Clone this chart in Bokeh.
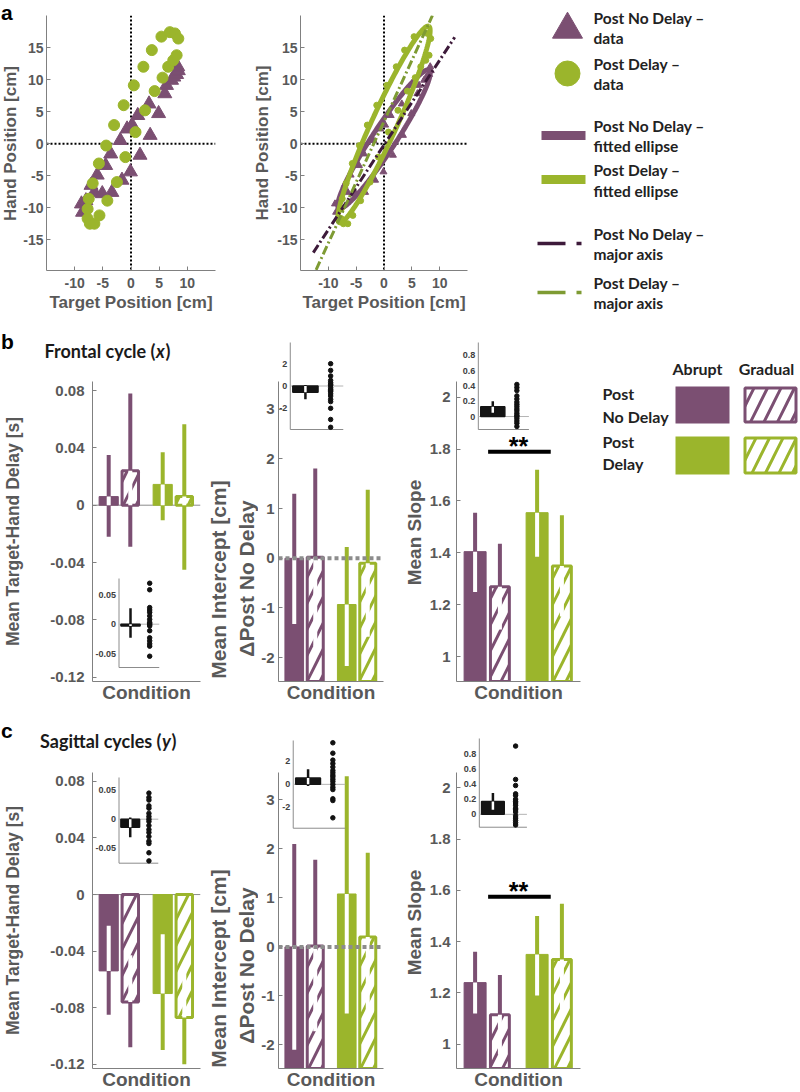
import math
import numpy as np
from bokeh.plotting import figure
from bokeh.layouts import row, column
from bokeh.models import Range1d, FixedTicker, Span, Spacer
from bokeh.core.properties import value
from bokeh.embed import file_html
from bokeh.resources import INLINE

# ===================== DATA =====================
# Panel a - example participant: hand position vs target position [cm]
nodelay_target = [-8.8, -8.6, -8.0, -7.1, -6.5, -6.0, -5.1, -4.5, -3.6, -3.4, -1.9, -1.6, -0.7, -0.1,
                  0.2, 1.2, 1.6, 3.2, 3.4, 4.9, 6.0, 6.3, 7.2, 7.6, 8.1, 8.4, 8.3]
nodelay_hand = [-9.4, -10.7, -8.9, -6.5, -7.6, -4.9, -7.8, -3.4, -1.6, -7.6, 0.5, -5.7, 2.3, -4.4,
                2.9, 4.4, -1.8, 6.2, 1.3, 4.7, 7.8, 9.1, 9.9, 10.4, 10.8, 11.4, 12.0]
delay_target = [5.4, 6.9, 7.8, 8.4, 3.7, 2.2, 0.5, -1.3, -3.0, -4.4, -5.7, -6.8, -7.5, -7.7,
                -7.7, -7.3, -6.5, -5.6, -4.2, -2.5, -1.0, 0.8, 2.5, 4.2, 5.6, 6.6, 7.5, 8.1]
delay_hand = [16.7, 17.4, 17.2, 16.4, 14.6, 12.0, 9.1, 6.0, 2.9, -0.3, -3.1, -6.2, -8.6, -10.2,
              -11.7, -12.5, -12.5, -11.2, -8.9, -6.0, -2.1, 1.8, 5.2, 8.2, 10.3, 12.0, 13.0, 13.8]
# fitted ellipses: centre x, centre y, semi-major, semi-minor, slope of major axis
ellipse_nodelay = [0.0, 0.7, 13.5, 2.0, 1.32]
ellipse_delay = [0.0, 3.0, 17.3, 2.2, 1.90]
# major axes (end points)
major_nodelay_target = [-12.7, 12.7]
major_nodelay_hand = [-17.0, 16.6]
major_delay_target = [-12.2, 8.7]
major_delay_hand = [-19.7, 20.0]
a_xticks = [-10, -5, 0, 5, 10]
a_yticks = [-15, -10, -5, 0, 5, 10, 15]

# Panels b, c - order: Post No Delay Abrupt, Post No Delay Gradual, Post Delay Abrupt, Post Delay Gradual
conditions = ["Post No Delay - Abrupt", "Post No Delay - Gradual", "Post Delay - Abrupt", "Post Delay - Gradual"]

b_delay_mean = [0.006, 0.024, 0.0145, 0.006]
b_delay_low = [-0.022, -0.029, -0.0105, -0.045]
b_delay_high = [0.035, 0.078, 0.037, 0.0565]
b_icpt_mean = [0.0, 0.02, -0.93, -0.10]
b_icpt_low = [-1.32, -1.77, -2.17, -1.58]
b_icpt_high = [1.30, 1.81, 0.23, 1.38]
b_slope_mean = [1.405, 1.27, 1.555, 1.35]
b_slope_low = [1.25, 1.105, 1.385, 1.155]
b_slope_high = [1.555, 1.435, 1.72, 1.545]

c_delay_mean = [-0.054, -0.076, -0.070, -0.087]
c_delay_low = [-0.085, -0.108, -0.110, -0.120]
c_delay_high = [-0.022, -0.043, -0.028, -0.052]
c_icpt_mean = [0.0, 0.02, 1.08, 0.20]
c_icpt_low = [-2.10, -1.72, -1.36, -1.52]
c_icpt_high = [2.10, 1.78, 3.48, 1.92]
c_slope_mean = [1.24, 1.115, 1.35, 1.33]
c_slope_low = [1.12, 0.96, 1.19, 1.11]
c_slope_high = [1.36, 1.27, 1.50, 1.548]

# insets: [mean, low, high] and individual participants
b_delay_inset = [-0.003, -0.023, 0.027]
b_delay_dots = [0.069, 0.058, 0.028, 0.024, 0.020, 0.014, 0.008, 0.003, 0.001, -0.001, -0.003,
                -0.011, -0.023, -0.028, -0.033, -0.037, -0.054]
b_icpt_inset = [-0.55, -1.18, 0.08]
b_icpt_dots = [2.0, 1.4, 0.9, 0.5, 0.3, 0.15, 0.06, -0.15, -0.3, -0.4, -0.5, -0.7, -0.9, -1.2,
               -1.4, -2.0, -3.0, -3.7]
b_slope_inset = [0.127, 0.05, 0.20]
b_slope_dots = [0.42, 0.38, 0.34, 0.27, 0.23, 0.19, 0.16, 0.13, 0.10, 0.075, 0.044, 0.017, 0.0,
                -0.026, -0.057, -0.087, -0.13]
c_delay_inset = [-0.014, -0.031, 0.003]
c_delay_dots = [0.045, 0.0375, 0.033, 0.023, 0.019, 0.010, 0.0045, 0.0, -0.004, -0.011, -0.018,
                -0.023, -0.030, -0.038, -0.042, -0.058, -0.072]
c_icpt_inset = [0.55, -0.15, 1.30]
c_icpt_dots = [3.6, 2.7, 2.1, 1.8, 1.5, 1.2, 1.0, 0.8, 0.65, 0.45, 0.25, 0.0, -0.25, -0.45,
               -1.25, -1.4, -2.9]
c_slope_inset = [0.17, 0.06, 0.28]
c_slope_dots = [0.90, 0.46, 0.38, 0.27, 0.25, 0.20, 0.17, 0.15, 0.12, 0.08, 0.06, 0.03, -0.02,
                -0.05, -0.08, -0.11, -0.14]

delay_ticks = [-0.12, -0.08, -0.04, 0, 0.04, 0.08]
delay_labels = ["-0.12", "-0.08", "-0.04", "0", "0.04", "0.08"]
icpt_ticks = [-2, -1, 0, 1, 2, 3]
icpt_labels = ["-2", "-1", "0", "1", "2", "3"]
slope_ticks = [1, 1.2, 1.4, 1.6, 1.8, 2]
slope_labels = ["1", "1.2", "1.4", "1.6", "1.8", "2"]
in_delay_ticks = [-0.05, 0, 0.05]
in_delay_labels = ["-0.05", "0", "0.05"]
in_icpt_ticks = [-2, 0, 2]
in_icpt_labels = ["-2", "0", "2"]
in_slope_ticks = [0, 0.2, 0.4, 0.6, 0.8]
in_slope_labels = ["0", "0.2", "0.4", "0.6", "0.8"]
b_sig_level = 1.79
c_sig_level = 1.575

# ===================== STYLE =====================
PURPLE = "#7B4F72"
GREEN = "#9BB52C"
PURPLE_DARK = "#3D1A3A"
GREEN_DARK = "#7E9B33"
AXIS_COL = "#808080"
TICK_TXT = "#595959"
DARK_TXT = "#222222"
AX_FONT = "Liberation Sans"
LEG_FONT = "Lato"

BAR_X = [0.8, 1.2, 1.8, 2.2]
BAR_COL = [PURPLE, PURPLE, GREEN, GREEN]
HATCHED = [False, True, False, True]
INSET_XR = (0.4, 2.5)


def base_fig(width, height, xr, yr, left=0, right=0, top=0, bottom=0, axes=True):
    kw = dict(width=width, height=height, x_range=xr, y_range=yr, output_backend="svg",
              toolbar_location=None, title=None, min_border_left=left, min_border_right=right,
              min_border_top=top, min_border_bottom=bottom)
    if not axes:
        kw["x_axis_type"] = None
        kw["y_axis_type"] = None
    p = figure(**kw)
    p.frame_align = False
    p.outline_line_color = None
    p.grid.visible = False
    p.background_fill_color = "white"
    p.border_fill_color = "white"
    return p


def style_axis(ax, tick_size, label_size, label_standoff, tick_standoff):
    ax.axis_line_color = AXIS_COL
    ax.axis_line_width = 1
    ax.major_tick_line_color = AXIS_COL
    ax.major_tick_in = 4
    ax.major_tick_out = 0
    ax.minor_tick_line_color = None
    ax.major_label_text_font = AX_FONT
    ax.major_label_text_font_style = "bold"
    ax.major_label_text_font_size = tick_size
    ax.major_label_text_color = TICK_TXT
    ax.major_label_standoff = tick_standoff
    ax.axis_label_text_font = AX_FONT
    ax.axis_label_text_font_style = "bold"
    ax.axis_label_text_font_size = label_size
    ax.axis_label_text_color = TICK_TXT
    ax.axis_label_standoff = label_standoff


def txt(p, x, y, t, size, color=DARK_TXT, font=LEG_FONT, style="bold", align="left",
        baseline="middle", angle=0.0):
    p.text(x=[x], y=[y], text=[t], text_font=value(font), text_font_size=size,
           text_font_style=style, text_color=color, text_align=align,
           text_baseline=baseline, angle=angle)


def err_segments(xs, bases, means, lows, highs, colors):
    cx, c0, c1, cc, wx, w0, w1 = [], [], [], [], [], [], []
    for x, b, m, lo, hi, c in zip(xs, bases, means, lows, highs, colors):
        a_, b_ = min(b, m), max(b, m)
        if lo < a_:
            cx.append(x); c0.append(lo); c1.append(min(hi, a_)); cc.append(c)
        if hi > b_:
            cx.append(x); c0.append(max(lo, b_)); c1.append(hi); cc.append(c)
        il, ih = max(lo, a_), min(hi, b_)
        if ih > il:
            wx.append(x); w0.append(il); w1.append(ih)
    return (cx, c0, c1, cc), (wx, w0, w1)


def draw_err(p, xs, bases, means, lows, highs, colors, width, **kw):
    (cx, c0, c1, cc), (wx, w0, w1) = err_segments(xs, bases, means, lows, highs, colors)
    if cx:
        p.segment(x0=cx, y0=c0, x1=cx, y1=c1, line_color=cc, line_width=width, line_cap="butt", **kw)
    if wx:
        p.segment(x0=wx, y0=w0, x1=wx, y1=w1, line_color="white", line_width=width, line_cap="butt", **kw)


def ellipse_curve(params, n=240):
    cx, cy, a, b, slope = params
    th = math.atan(slope)
    t = np.linspace(0, 2 * np.pi, n)
    x = cx + a * np.cos(t) * math.cos(th) - b * np.sin(t) * math.sin(th)
    y = cy + a * np.cos(t) * math.sin(th) + b * np.sin(t) * math.cos(th)
    return x, y


# ===================== PANEL a =====================
def scatter_panel(width, left, right, ylabel):
    p = base_fig(width, 322, Range1d(-15, 15), Range1d(-19.8, 20), left, right, 15, 52)
    xa, ya = p.xaxis[0], p.yaxis[0]
    style_axis(xa, "14px", "17px", 2, 7)
    style_axis(ya, "14px", "17px", 2, 3)
    xa.ticker = FixedTicker(ticks=a_xticks)
    ya.ticker = FixedTicker(ticks=a_yticks)
    xa.major_label_overrides = {t: str(t) for t in a_xticks}
    ya.major_label_overrides = {t: str(t) for t in a_yticks}
    xa.axis_label = "Target Position [cm]"
    if ylabel:
        ya.axis_label = ylabel
    for dim in ("width", "height"):
        p.add_layout(Span(location=0, dimension=dim, line_color="black", line_width=2,
                          line_dash="2 2", level="underlay"))
    return p


stripA = base_fig(20, 322, Range1d(0, 20), Range1d(322, 0), axes=False)
txt(stripA, 0.5, 12, "a", "21px", color="black", font=AX_FONT)
txt(stripA, 10, 143, "Hand Position [cm]", "17px", color=TICK_TXT, font=AX_FONT,
    align="center", angle=math.pi / 2)

A1 = scatter_panel(230, 23, 35, None)
A1.scatter(nodelay_target, nodelay_hand, marker="triangle", size=14, color=PURPLE)
A1.scatter(delay_target, delay_hand, marker="circle", size=11, color=GREEN)

A2 = scatter_panel(230, 46, 13, "Hand Position [cm]")
ex, ey = ellipse_curve(ellipse_nodelay)
A2.line(ex, ey, line_color=PURPLE, line_width=5)
A2.scatter(nodelay_target, nodelay_hand, marker="triangle", size=7, color=PURPLE)
ex, ey = ellipse_curve(ellipse_delay)
A2.line(ex, ey, line_color=GREEN, line_width=5)
A2.scatter(delay_target, delay_hand, marker="circle", size=6, color=GREEN)
A2.line(major_nodelay_target, major_nodelay_hand, line_color=PURPLE_DARK, line_width=3,
        line_dash="9 3 2 3")
A2.line(major_delay_target, major_delay_hand, line_color=GREEN_DARK, line_width=3,
        line_dash="9 3 2 3")

legA = base_fig(320, 322, Range1d(480, 800), Range1d(322, 0), axes=False)
legA.scatter(x=[567], y=[29], marker="triangle", size=30, color=PURPLE)
legA.scatter(x=[567], y=[73], marker="circle", size=25, color=GREEN)
legA.segment(x0=[541, 541], y0=[135, 179], x1=[585, 585], y1=[135, 179],
             line_color=[PURPLE, GREEN], line_width=9, line_cap="butt")
legA.segment(x0=[537], y0=[243], x1=[581], y1=[243], line_color=PURPLE_DARK, line_width=3.5,
             line_dash="28 11 5 40", line_cap="butt")
legA.segment(x0=[537], y0=[292], x1=[581], y1=[292], line_color=GREEN_DARK, line_width=3.5,
             line_dash="28 11 5 40", line_cap="butt")
for yy, t in [(17, "Post No Delay \u2013"), (37, "data"), (63, "Post Delay \u2013"), (83, "data"),
              (125, "Post No Delay \u2013"), (145, "fitted ellipse"), (169, "Post Delay \u2013"),
              (190, "fitted ellipse"), (233, "Post No Delay \u2013"), (253, "major axis"),
              (282, "Post Delay \u2013"), (302, "major axis")]:
    txt(legA, 593, yy, t, "15.5px")


# ===================== PANELS b, c =====================
def add_inset(p, frame, box, yr, stats, dots, ticks, labels):
    fx0, fx1, fy0, fy1 = frame
    ix0, ix1, iy0, iy1 = box
    xa, xb = INSET_XR
    ya, yb = yr
    kx = (ix1 - ix0) / (xb - xa)
    xs = xa - (ix0 - fx0) / kx
    ky = (iy1 - iy0) / (yb - ya)
    ys = ya - (fy1 - iy1) / ky
    p.extra_x_ranges = {"ix": Range1d(xs, xs + (fx1 - fx0) / kx)}
    p.extra_y_ranges = {"iy": Range1d(ys, ys + (fy1 - fy0) / ky)}
    kw = dict(x_range_name="ix", y_range_name="iy")
    p.segment(x0=[xa, xa], y0=[ya, ya], x1=[xa, xb], y1=[yb, ya], line_color="#8C8C8C",
              line_width=1, **kw)
    p.segment(x0=[xa], y0=[0], x1=[xb], y1=[0], line_color="#B4B4B4", line_width=1, **kw)
    mean, low, high = stats
    p.vbar(x=[1], width=1.0, bottom=0, top=[mean], fill_color="#141414", line_color="#141414",
           line_width=1.5, **kw)
    draw_err(p, [1], [0], [mean], [low], [high], ["#141414"], 2.5, **kw)
    p.scatter(x=[2] * len(dots), y=dots, size=4.5, color="#111111", **kw)
    p.text(x=[xa] * len(ticks), y=ticks, text=labels, x_offset=-3, text_align="right",
           text_baseline="middle", text_font=value(AX_FONT), text_font_style="bold",
           text_font_size="9px", text_color="#404040", **kw)


def bar_panel(width, height, canvas_left, canvas_top, frame, axis_top, bounds, ticks, labels,
              base_mode, mean, low, high, zero, tick_standoff, ylabel=None, label_standoff=0,
              sig=None, inset=None):
    fx0, fx1, fy0, fy1 = frame
    left = fx0 - canvas_left
    right = canvas_left + width - fx1
    top = fy0 - canvas_top
    bottom = canvas_top + height - fy1
    lo_b, hi_b = bounds
    k = (fy1 - axis_top) / (hi_b - lo_b)
    y_end = hi_b + (axis_top - fy0) / k
    p = base_fig(width, height, Range1d(0.5, 2.5), Range1d(lo_b, y_end), left, right, top, bottom)
    xa, ya = p.xaxis[0], p.yaxis[0]
    style_axis(xa, "15px", "19px", 0, 0)
    xa.ticker = FixedTicker(ticks=[])
    xa.axis_label = "Condition"
    style_axis(ya, "15px", "17.5px", label_standoff, tick_standoff)
    ya.ticker = FixedTicker(ticks=ticks)
    ya.major_label_overrides = {t: l for t, l in zip(ticks, labels)}
    ya.bounds = (lo_b, hi_b)
    if ylabel:
        ya.axis_label = ylabel

    if zero == "thin":
        p.add_layout(Span(location=0, dimension="width", line_color="#8C8C8C", line_width=1,
                          level="underlay"))
    base = 0.0 if base_mode == "zero" else lo_b
    sx = [x for x, h in zip(BAR_X, HATCHED) if not h]
    hx = [x for x, h in zip(BAR_X, HATCHED) if h]
    sm = [m for m, h in zip(mean, HATCHED) if not h]
    hm = [m for m, h in zip(mean, HATCHED) if h]
    sc = [c for c, h in zip(BAR_COL, HATCHED) if not h]
    hc = [c for c, h in zip(BAR_COL, HATCHED) if h]
    p.vbar(x=sx, width=0.355, bottom=base, top=sm, fill_color=sc, line_color=sc, line_width=1)
    p.vbar(x=hx, width=0.305, bottom=base, top=hm, fill_color="white", line_color=hc,
           line_width=3, hatch_pattern="/", hatch_color=hc, hatch_weight=3, hatch_scale=26)
    if zero == "dotted":
        p.add_layout(Span(location=0, dimension="width", line_color="#8C8C8C", line_width=4,
                          line_dash="4 3"))
    draw_err(p, BAR_X, [base] * 4, mean, low, high, BAR_COL, 4)
    if sig is not None:
        p.segment(x0=[1.01], y0=[sig], x1=[2.02], y1=[sig], line_color="black", line_width=4)
        p.text(x=[1.5], y=[sig + 6.0 / k], text=["**"], text_align="center",
               text_baseline="alphabetic", text_font=value(AX_FONT), text_font_style="bold",
               text_font_size="25px", text_color="black")
    if inset is not None:
        add_inset(p, frame, *inset)
    return p


DELAY_B = (-0.123, 0.0863)
ICPT_B = (-2.48, 3.56)
SLOPE_B = (0.905, 2.06)

# ---- row b ----
stripB = base_fig(205, 50, Range1d(0, 205), Range1d(372, 322), axes=False)
txt(stripB, 0.5, 341, "b", "21px", color="black", font=AX_FONT)
txt(stripB, 155, 350, "Frontal cycle (", "18px", color="#1A1A1A", align="right")
txt(stripB, 155.5, 350, "x", "18px", color="#1A1A1A", style="bold italic")
txt(stripB, 165, 350, ")", "18px", color="#1A1A1A")

B1 = bar_panel(205, 340, 0, 372, (90, 200, 381, 681), 381, DELAY_B, delay_ticks, delay_labels,
               "zero", b_delay_mean, b_delay_low, b_delay_high, "thin", 8,
               ylabel="Mean Target-Hand Delay [s]", label_standoff=24,
               inset=((117, 158, 578, 667), (-0.073, 0.077), b_delay_inset, b_delay_dots,
                      in_delay_ticks, in_delay_labels))

labB2 = base_fig(53, 390, Range1d(205, 258), Range1d(712, 322), axes=False)
txt(labB2, 218, 579, "Mean Intercept [cm]", "21px", color=TICK_TXT, font=AX_FONT,
    align="center", angle=math.pi / 2)
txt(labB2, 246, 578, "\u0394Post No Delay", "21px", color=TICK_TXT, font=AX_FONT,
    align="center", angle=math.pi / 2)
B2 = bar_panel(137, 390, 258, 322, (276, 383, 340, 681), 381, ICPT_B, icpt_ticks, icpt_labels,
               "bottom", b_icpt_mean, b_icpt_low, b_icpt_high, "dotted", 4,
               inset=((288, 342, 342, 429), (-3.9, 3.9), b_icpt_inset, b_icpt_dots,
                      in_icpt_ticks, in_icpt_labels))

labB3 = base_fig(31, 390, Range1d(395, 426), Range1d(712, 322), axes=False)
txt(labB3, 414, 532, "Mean Slope", "19px", color=TICK_TXT, font=AX_FONT, align="center",
    angle=math.pi / 2)
B3 = bar_panel(164, 390, 426, 322, (455, 580, 340, 681), 381, SLOPE_B, slope_ticks, slope_labels,
               "bottom", b_slope_mean, b_slope_low, b_slope_high, None, 6, sig=b_sig_level,
               inset=((477, 528, 342, 429), (-0.17, 0.97), b_slope_inset, b_slope_dots,
                      in_slope_ticks, in_slope_labels))

legB = base_fig(210, 390, Range1d(590, 800), Range1d(712, 322), axes=False)
legB.quad(left=[675, 675], right=[729, 729], top=[386, 436], bottom=[423, 474],
          fill_color=[PURPLE, GREEN], line_color=None)
legB.quad(left=[744.5, 744.5], right=[795.5, 795.5], top=[387.5, 437.5], bottom=[421.5, 472.5],
          fill_color="white", line_color=[PURPLE, GREEN], line_width=3, hatch_pattern="/",
          hatch_color=[PURPLE, GREEN], hatch_weight=3, hatch_scale=27)
txt(legB, 697, 368, "Abrupt", "16px", align="center")
txt(legB, 766, 368, "Gradual", "16px", align="center")
txt(legB, 602, 393, "Post", "16px")
txt(legB, 602, 416, "No Delay", "16px")
txt(legB, 602, 441, "Post", "16px")
txt(legB, 602, 463, "Delay", "16px")

# ---- row c ----
stripC = base_fig(205, 50, Range1d(0, 205), Range1d(762, 712), axes=False)
txt(stripC, 0.5, 730, "c", "21px", color="black", font=AX_FONT)
txt(stripC, 161, 740, "Sagittal cycles (", "18px", color="#1A1A1A", align="right")
txt(stripC, 161.5, 740, "y", "18px", color="#1A1A1A", style="bold italic")
txt(stripC, 171, 740, ")", "18px", color="#1A1A1A")

C1 = bar_panel(205, 330, 0, 762, (90, 200, 772, 1069), 772, DELAY_B, delay_ticks, delay_labels,
               "zero", c_delay_mean, c_delay_low, c_delay_high, "thin", 8,
               ylabel="Mean Target-Hand Delay [s]", label_standoff=24,
               inset=((117, 157, 777, 863), (-0.076, 0.072), c_delay_inset, c_delay_dots,
                      in_delay_ticks, in_delay_labels))

labC2 = base_fig(53, 380, Range1d(205, 258), Range1d(1092, 712), axes=False)
txt(labC2, 218, 968, "Mean Intercept [cm]", "21px", color=TICK_TXT, font=AX_FONT,
    align="center", angle=math.pi / 2)
txt(labC2, 246, 965, "\u0394Post No Delay", "21px", color=TICK_TXT, font=AX_FONT,
    align="center", angle=math.pi / 2)
C2 = bar_panel(137, 380, 258, 712, (276, 383, 736, 1069), 772, ICPT_B, icpt_ticks, icpt_labels,
               "bottom", c_icpt_mean, c_icpt_low, c_icpt_high, "dotted", 4,
               inset=((291, 344, 740, 828), (-3.8, 3.8), c_icpt_inset, c_icpt_dots,
                      in_icpt_ticks, in_icpt_labels))

labC3 = base_fig(31, 380, Range1d(395, 426), Range1d(1092, 712), axes=False)
txt(labC3, 414, 922, "Mean Slope", "19px", color=TICK_TXT, font=AX_FONT, align="center",
    angle=math.pi / 2)
C3 = bar_panel(164, 380, 426, 712, (455, 580, 736, 1069), 772, SLOPE_B, slope_ticks, slope_labels,
               "bottom", c_slope_mean, c_slope_low, c_slope_high, None, 6, sig=c_sig_level,
               inset=((478, 526, 738, 827), (-0.17, 1.0), c_slope_inset, c_slope_dots,
                      in_slope_ticks, in_slope_labels))

rowA = row(stripA, A1, A2, legA)
rowB = row(column(stripB, B1), labB2, B2, labB3, B3, legB)
rowC = row(column(stripC, C1), labC2, C2, labC3, C3, Spacer(width=210, height=380))
layout = column(rowA, rowB, rowC)

open("out.html", "w").write(file_html(layout, INLINE))
